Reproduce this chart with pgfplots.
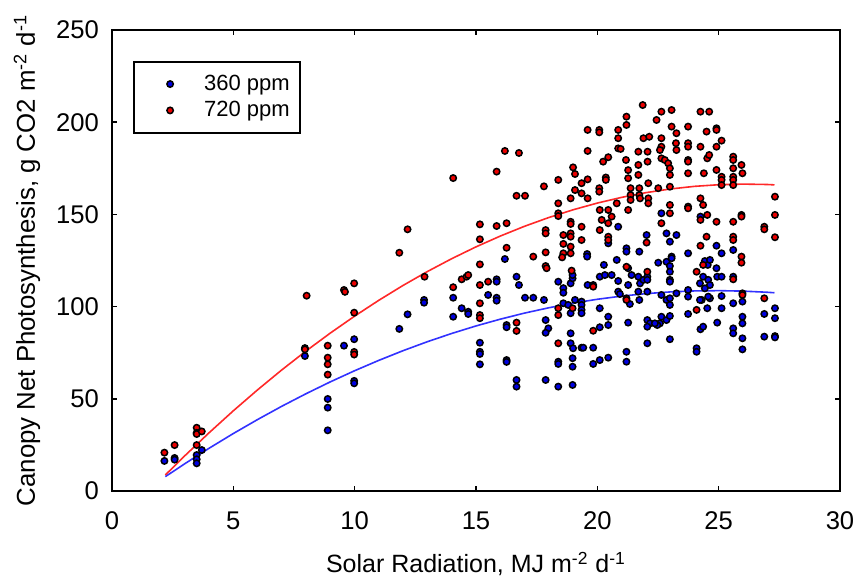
\documentclass[border=0pt]{standalone}
\usepackage{fontspec}
\setmainfont{Liberation Sans}
\usepackage{pgfplots}
\pgfplotsset{compat=1.18}

\definecolor{ptred}{RGB}{235,0,0}
\definecolor{ptblue}{RGB}{0,0,225}
\definecolor{fitred}{RGB}{255,40,40}
\definecolor{fitblue}{RGB}{50,50,255}

\begin{document}
\begin{tikzpicture}
\begin{axis}[
  scale only axis,
  width=364pt, height=230.5pt,
  xmin=0, xmax=30, ymin=0, ymax=250,
  xtick={0,5,...,30}, ytick={0,50,...,250},
  tick align=inside, tick pos=both, major tick length=2.5pt,
  axis line style={line width=1pt}, every tick/.style={black, line width=0.8pt},
  /pgf/number format/assume math mode=true,
  tick label style={font=\fontsize{12.8}{14}\selectfont},
  xticklabel style={yshift=-7pt},
  yticklabel style={xshift=-3pt},
  xlabel={Solar Radiation, MJ m\textsuperscript{-2} d\textsuperscript{-1}},
  ylabel={Canopy Net Photosynthesis, g CO2 m\textsuperscript{-2} d\textsuperscript{-1}},
  xlabel style={font=\fontsize{12.5}{14}\selectfont, at={(axis description cs:0.5,0)}, anchor=base, yshift=-41pt},
  ylabel style={font=\fontsize{12.9}{14}\selectfont, at={(axis description cs:0,0.5)}, anchor=base, yshift=38.5pt},
  legend style={at={(0.029,0.933)}, anchor=north west, draw=black, line width=1pt,
    font=\fontsize{11}{13.5}\selectfont, inner xsep=3pt, inner ysep=4.5pt,
    cells={anchor=west}},
  legend image code/.code={\path (0,0) (29pt,0); \draw[#1] plot coordinates {(14.5pt,0pt)};},
]
% 360 ppm
\addplot[only marks, mark=*, mark size=1.6pt, mark options={fill=ptblue, draw=black, line width=0.75pt}] coordinates {
(2.16,16.3) (2.58,17.9) (2.58,17.0) (3.49,19.5) (3.49,17.2) (3.49,15.0) (3.70,22.2)
(7.95,73.2) (7.95,77.5) (8.89,49.9) (8.89,45.2) (8.89,32.9) (9.56,78.8)
(9.98,82.3) (9.98,59.7) (9.98,58.4) (11.84,87.9) (12.18,95.8)
(12.86,103.6) (12.86,102.1) (14.06,104.8) (14.06,94.5) (14.41,99.1) (14.68,97.2) (14.68,96)
(15.16,80.4) (15.16,75.5) (15.16,74.3) (15.16,68.7) (15.5,106.3)
(15.85,114.8) (15.85,113.5) (15.85,104.8) (15.85,103.2) (16.19,125.8)
(16.26,90) (16.26,88.8) (16.26,71) (16.26,70) (16.67,116.2) (16.77,111.7)
(17.02,104.8) (17.36,104.8) (17.8,103.6) (16.67,60.2) (16.67,56.6)
(17.87,92.7) (17.98,88.2) (17.87,85.8) (17.87,60.2) (18.39,56.6) (18.39,113.5)
(18.6,110) (18.6,107.5) (18.9,112.6) (18.98,115.3) (18.98,117.1)
(18.6,101.8) (18.8,100.9) (19.08,103.6) (19.35,102.7) (19.35,100.9) (19.35,98.2) (19.35,96.4) (18.9,96.4)
(18.39,70.1) (18.39,68.9) (18.9,85.5) (18.9,80.1) (18.98,72) (18.98,67.4) (18.98,57.5)
(19.35,77.7) (19.42,77.7) (19.83,77.7) (19.6,111.7) (19.83,111.7)
(20.1,116.2) (20.31,117.1) (20.59,117.1) (20.27,122.6) (20.8,125.3)
(20.1,99.1) (20.45,94.5) (20.45,90) (20.1,88.8) (19.83,68.9) (20.1,71) (20.45,72.3)
(20.86,108.1) (19.58,128.5) (19.58,127.1) (20.45,134.3) (20.86,143.3)
(22.64,150.6) (22.85,139.7) (23.26,138.8) (22.99,135.2) (22.03,138.8)
(21.2,131.6) (21.2,129.8) (21.73,129.8) (23.74,128.9) (24.91,133) (25.12,128.9) (25.6,130.7) (24.25,148.8)
(20.86,113.9) (21.27,120.8) (21.41,117.1) (21.27,111.7) (21.69,116.2) (21.76,112.6) (21.9,114.5)
(22.06,116.2) (22.06,114.5) (21.69,108.1) (22.06,108.1) (20.93,106.8) (21.34,101.4) (21.73,103.6)
(22.51,123.8) (22.85,124.3) (22.99,122) (23.06,127.1) (23.06,126.2) (22.99,118.9) (22.99,114.5) (22.99,113.5)
(22.64,106.3) (22.85,103.6) (22.99,104.5) (22.99,100.9) (23.26,107.2) (23.74,109) (23.74,105.4)
(24.23,112.6) (24.36,116.2) (24.57,114.5) (24.64,111.7) (24.43,109.9) (24.3,103.6) (24.23,103.6) (24.53,99.1) (24.64,104.5)
(24.91,120.8) (24.94,116.2) (25.12,105.7) (25.6,116.2) (25.6,101.8) (25.98,102.7)
(25.98,94.5) (25.98,90.9) (25.98,82.8) (25.98,76.8) (25.6,88.2) (25.6,85.5)
(26.88,96) (27.32,99.1) (27.32,93.7) (26.88,83.7) (27.32,84) (27.32,83.3)
(23.74,96) (24.25,87.7) (24.36,89.1) (24.94,91.3) (24.09,77.4) (24.09,75.5) (22.99,82.3)
(22.64,94.5) (22.85,92.7) (22.58,90.9) (22.99,94.9) (22.06,92.7) (22.17,90.9) (22.47,90) (22.06,89.1)
(22.06,80.1) (21.27,91.3) (21.2,75.5) (21.2,70.1) (19.0,77.4)
(24.43,124.7) (24.55,122.6) (24.64,125.3) (25.12,116.2) (24.57,105.4) (25.12,99.1) (22.37,90.9)
};
\addlegendentry{360 ppm}
% 720 ppm
\addplot[only marks, mark=*, mark size=1.6pt, mark options={fill=ptred, draw=black, line width=0.75pt}] coordinates {
(2.16,20.8) (2.58,24.9) (3.49,34.3) (3.49,31.5) (3.49,30.9) (3.70,32.3) (3.49,24.9)
(8.02,105.9) (7.95,76.8) (8.89,78.8) (8.89,72.3) (8.89,68.7) (8.89,63.1)
(9.56,109) (9.60,108) (9.98,112.6) (9.98,96.7) (9.98,75.4) (9.98,74)
(11.84,129.2) (12.18,141.9) (12.88,116.2) (14.06,169.7) (14.06,110.5)
(14.41,114.8) (14.61,116.2) (14.68,117.1)
(15.16,144.6) (15.16,136.5) (15.16,122.9) (15.16,111.7) (15.16,101.8) (15.16,95.4) (15.16,93.7)
(15.5,113.5) (15.85,173.2) (15.85,143.7) (16.26,145.2) (16.26,131.9) (16.19,184.4) (16.77,183.3)
(16.67,160.1) (17.02,160.1) (16.67,91.3) (16.67,86.8) (17.36,127.1) (17.80,165.2)
(17.87,141.5) (17.87,139.7) (17.87,129.4) (17.87,122) (17.91,120.8)
(18.39,168.7) (18.39,156) (18.39,150.6) (18.39,149.1) (18.6,138.8) (18.6,134) (18.6,128.9)
(18.9,146) (18.9,144.8) (18.9,139.7) (18.9,137.9) (18.9,132.5) (18.9,128.9)
(19.0,175.5) (19.08,171.9) (19.08,163.2) (18.9,158.7) (19.35,166.9) (19.35,161.4) (19.6,169) (19.6,158.7)
(19.35,143.3) (19.35,136.1) (18.94,119.5) (19.6,195.8) (19.6,184.4) (20.08,195.8) (20.08,194.5)
(20.24,178.6) (20.45,181) (20.35,170) (20.35,168.7) (20.08,164.2) (20.08,162.3)
(20.1,152.4) (20.45,152.4) (20.59,148.8) (20.18,147) (20.45,145.2) (20.1,141.5) (20.45,137.9) (20.45,136.1)
(20.86,195.8) (20.86,191.3) (20.86,185.8) (20.8,156) (18.55,126.7)
(18.39,99.1) (18.39,95.4) (18.98,99.1) (18.39,80.1) (19.83,110.8) (19.83,86.9)
(20.96,185.5) (21.2,203) (21.2,198.5) (21.18,179.5)
(21.27,174) (21.27,169.6) (21.37,164.2) (21.37,160.5) (21.37,157.8)
(21.69,184) (21.69,176.8) (21.69,171.4) (21.73,164.2) (21.73,160.5) (21.87,209.3)
(21.9,191.3) (22.14,192.1) (22.07,184) (22.07,178.6) (22.1,166.9) (22.1,158.7) (22.1,156) (21.76,158.7)
(22.44,201.2) (22.64,205.7) (23.06,206.6) (22.64,191.3) (22.64,186.7)
(22.58,184.9) (22.64,180.4) (22.78,179.5) (22.92,177.7) (22.99,175) (22.99,171.4)
(23.06,197.6) (23.26,194) (23.24,188.6) (23.26,184.9) (22.99,165) (22.51,164.2)
(22.99,155.1) (22.99,150.6) (22.64,145.2)
(23.74,197.6) (23.74,188.6) (23.74,186.7) (23.74,179.5) (23.74,178.6) (23.74,172.3) (23.74,154.2) (23.74,153.3)
(24.25,205.7) (24.61,205.7) (24.5,194.9) (24.25,186.7) (24.53,180.4) (24.61,182.2) (24.39,172.3)
(24.25,158.7) (24.36,155.1) (24.53,149.7) (24.25,147)
(24.91,196.7) (24.91,195.8) (24.91,186.7) (24.91,174.1) (25.12,190)
(25.12,170.4) (25.12,168.7) (25.12,165.9) (24.91,146) (24.5,137.9) (24.25,133)
(25.6,181.3) (25.6,179.5) (25.6,175) (25.6,170.4) (25.6,168.7) (25.6,165.9)
(25.94,176.8) (25.98,172.3) (25.6,146) (25.94,149.7) (25.94,148.8) (25.6,137.9) (25.6,136.1)
(25.94,127.1) (25.94,123.8) (26.88,143.3) (26.88,141.9)
(27.32,159.6) (27.32,149.7) (27.32,137.6) (21.27,152.4) (22.03,134.7)
(21.2,121.6) (22.06,118.9) (21.2,104.5) (21.2,103.6) (24.36,122.6) (24.09,118.9)
(25.6,114.8) (25.98,107.2) (25.98,106.3) (26.88,104.5) (24.09,98.2)
};
\addlegendentry{720 ppm}
% fitted curves
\addplot[fitblue, line width=0.8pt, mark=none, forget plot] coordinates {
(2.2,7.8) (3,14.79) (4,23.17) (5,31.16) (6,38.75) (7,45.97) (8,52.78) (9,59.2) (10,65.23)
(11,70.86) (12,76.12) (13,80.97) (14,85.43) (15,89.5) (16,93.17) (17,96.47) (18,99.36)
(19,101.86) (20,103.97) (21,105.68) (22,107.02) (23,107.95) (24,108.49) (25,108.64)
(26,108.39) (27,107.77) (27.3,107.5)
};
\addplot[fitred, line width=0.8pt, mark=none, forget plot] coordinates {
(2.2,8.7) (3,19.09) (4,31.56) (5,43.49) (6,54.86) (7,65.69) (8,75.96) (9,85.67) (10,94.84)
(11,103.45) (12,111.52) (13,119.03) (14,125.98) (15,132.39) (16,138.24) (17,143.55) (18,148.3)
(19,152.49) (20,156.14) (21,159.23) (22,161.78) (23,163.77) (24,165.2) (25,166.09)
(26,166.42) (27,166.21) (27.3,166.0)
};
\end{axis}
\pgfresetboundingbox
\path ([shift={(-56pt,-45pt)}]current axis.south west) rectangle ([shift={(6.5pt,15pt)}]current axis.north east);
\end{tikzpicture}
\end{document}
